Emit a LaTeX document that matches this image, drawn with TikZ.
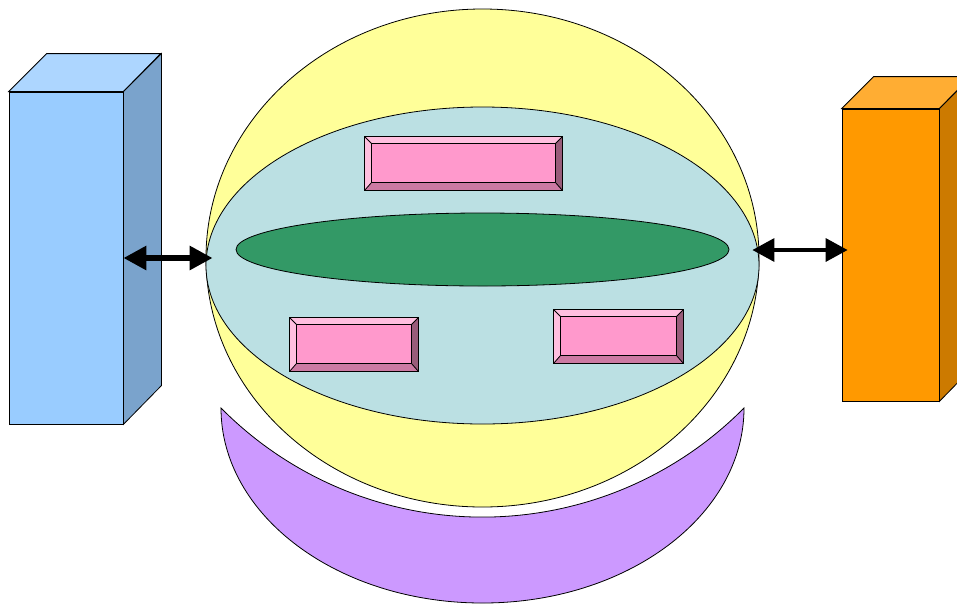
\documentclass[tikz,border=0pt]{standalone}
\usepackage{tikz}
\usetikzlibrary{arrows.meta, shapes.geometric, positioning}

\definecolor{cellyellow}{HTML}{FFFF99}
\definecolor{nucteal}{HTML}{BBE0E3}
\definecolor{rodgreen}{HTML}{339966}
\definecolor{capsule}{HTML}{CC99FF}
\definecolor{pinkface}{HTML}{FF99CC}
\definecolor{pinklight}{HTML}{FFBFDF}
\definecolor{pinkmid}{HTML}{CC7AA3}
\definecolor{pinkdark}{HTML}{995C7A}
\definecolor{bluefront}{HTML}{99CCFF}
\definecolor{bluetop}{HTML}{ADD6FF}
\definecolor{blueside}{HTML}{7AA3CC}
\definecolor{orangefront}{HTML}{FF9900}
\definecolor{orangetop}{HTML}{FFAD33}
\definecolor{orangeside}{HTML}{CC7A00}

\tikzset{
  outline/.style={draw=black, line width=0.8pt},
  blobs/.style={outline, ellipse, inner sep=0pt},
  pinkbox/.style={outline, fill=pinkface, inner sep=0pt, minimum height=53pt},
  fatarrow/.style={{Triangle[length=23pt,width=23pt]}-{Triangle[length=23pt,width=23pt]}, line width=6pt},
  thinarrow/.style={{Triangle[length=22pt,width=23pt]}-{Triangle[length=22pt,width=23pt]}, line width=3.5pt}
}

\begin{document}
\begin{tikzpicture}[x=1pt,y=-1pt]
  \useasboundingbox (0,0) rectangle (957,603);

  % left block
  \node[outline, fill=bluefront, minimum width=114pt, minimum height=332pt] (lbox) at (66,258) {};
  \draw[outline, fill=bluetop] (lbox.north west) -- ++(38,-38) -- ++(114,0) -- (lbox.north east) -- cycle;
  \draw[outline, fill=blueside] (lbox.north east) -- ++(38,-38) -- ++(0,332) -- (lbox.south east) -- cycle;

  % right block
  \node[outline, fill=orangefront, minimum width=97pt, minimum height=292pt] (rbox) at (890.5,255) {};
  \draw[outline, fill=orangetop] (rbox.north west) -- ++(32,-32) -- ++(97,0) -- (rbox.north east) -- cycle;
  \draw[outline, fill=orangeside] (rbox.north east) -- ++(32,-32) -- ++(0,292) -- (rbox.south east) -- cycle;

  % cell
  \node[blobs, fill=cellyellow, minimum width=553pt, minimum height=498pt] (cell) at (482.5,258) {};
  \draw[outline, fill=capsule] (221,408) arc[start angle=180, end angle=0, x radius=261.5, y radius=195]
      arc[start angle=44.72, end angle=135.28, radius=368.05] -- cycle;
  \node[blobs, fill=nucteal, minimum width=553pt, minimum height=317pt] (core) at (482.5,265.5) {};
  \node[blobs, fill=rodgreen, minimum width=493pt, minimum height=73pt] (rod) at (482.5,249.5) {};

  % bevelled boxes
  \node[pinkbox, minimum width=197pt] (ptop) at (463.5,163.5) {};
  \node[pinkbox, minimum width=128pt] (pleft) at (354,344.5) {};
  \node[pinkbox, minimum width=129pt] (pright) at (618.5,336.5) {};
  \foreach \b in {ptop,pleft,pright}{
    \fill[pinklight] (\b.north west) -- (\b.north east) -- ([shift={(-7,7)}]\b.north east) -- ([shift={(7,7)}]\b.north west) -- cycle;
    \fill[pinklight] (\b.north west) -- ([shift={(7,7)}]\b.north west) -- ([shift={(7,-8)}]\b.south west) -- (\b.south west) -- cycle;
    \fill[pinkmid] (\b.south west) -- ([shift={(7,-8)}]\b.south west) -- ([shift={(-7,-8)}]\b.south east) -- (\b.south east) -- cycle;
    \fill[pinkdark] (\b.north east) -- ([shift={(-7,7)}]\b.north east) -- ([shift={(-7,-8)}]\b.south east) -- (\b.south east) -- cycle;
    \draw[line width=0.8pt] ([shift={(7,7)}]\b.north west) rectangle ([shift={(-7,-8)}]\b.south east);
    \draw[line width=0.8pt] (\b.north west) -- ++(7,7) (\b.north east) -- ++(-7,7)
        (\b.south west) -- ++(7,-8) (\b.south east) -- ++(-7,-8);
    \draw[line width=1pt] (\b.north west) rectangle (\b.south east);
  }

  % links
  \draw[fatarrow] (lbox.east) -- ([xshift=7pt]cell.west);
  \draw[thinarrow] ([xshift=-7pt,yshift=8pt]cell.east) -- ([xshift=6pt,yshift=5pt]rbox.west);
\end{tikzpicture}
\end{document}
